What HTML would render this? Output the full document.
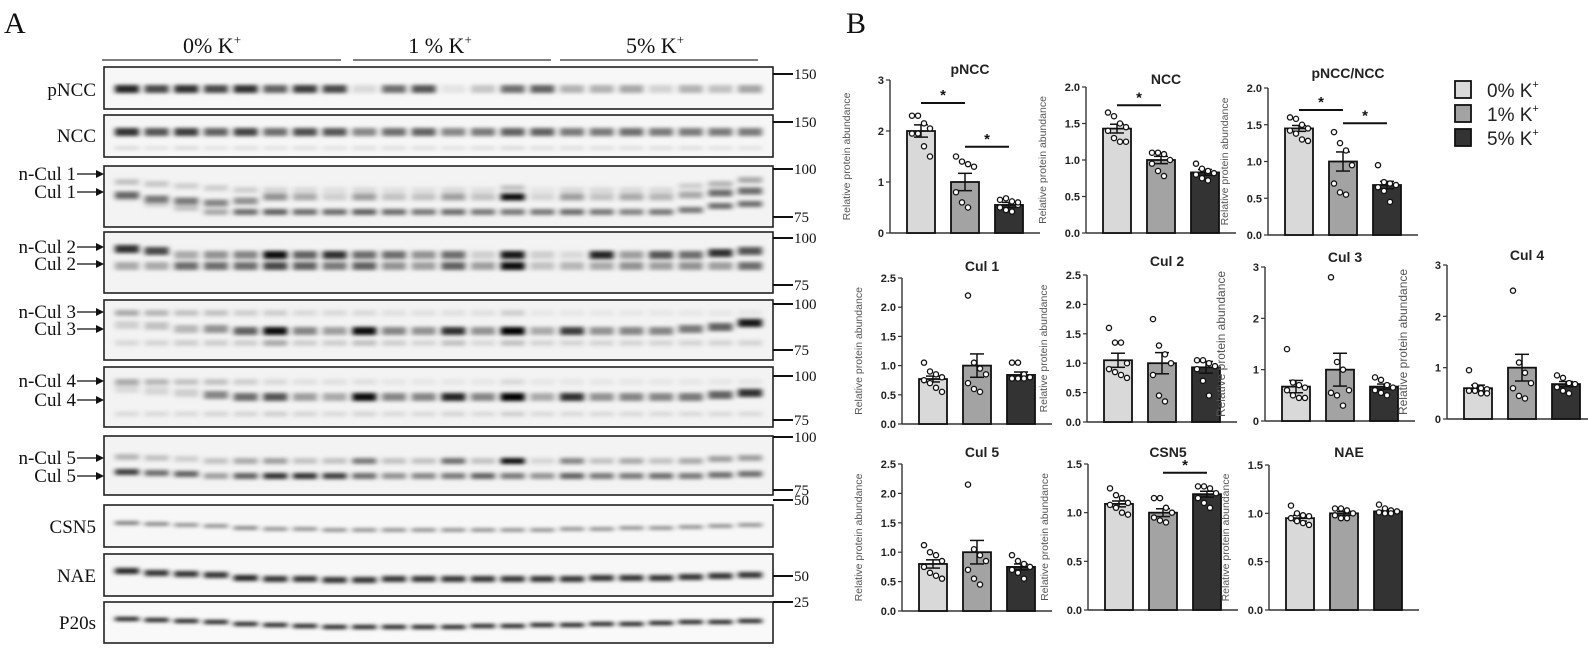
<!DOCTYPE html>
<html><head><meta charset="utf-8">
<style>
html,body{margin:0;padding:0;background:#fff;}
svg{display:block;}
.ser{font-family:"Liberation Serif",serif;fill:#111;}
.sans{font-family:"Liberation Sans",sans-serif;}
</style></head>
<body>
<svg id="s" width="1588" height="655" viewBox="0 0 1588 655" xmlns="http://www.w3.org/2000/svg">
<defs>
<filter id="bl" x="-30%" y="-150%" width="160%" height="400%"><feGaussianBlur stdDeviation="2.6 1.8"/></filter>
</defs>
<g id="g"></g>
</svg>
<script>
var out=[];
function a(s){out.push(s);}
a('<text class="ser" x="4" y="33" font-size="30">A</text>');
a('<text class="ser" x="212" y="53" font-size="22" text-anchor="middle">0% K<tspan dy="-9" font-size="13">+</tspan></text>');
a('<text class="ser" x="440" y="53" font-size="22" text-anchor="middle">1 % K<tspan dy="-9" font-size="13">+</tspan></text>');
a('<text class="ser" x="655" y="53" font-size="22" text-anchor="middle">5% K<tspan dy="-9" font-size="13">+</tspan></text>');
a('<line x1="102" y1="60" x2="341" y2="60" stroke="#333" stroke-width="1.3"/>');
a('<line x1="353" y1="60" x2="551" y2="60" stroke="#333" stroke-width="1.3"/>');
a('<line x1="560" y1="60" x2="758" y2="60" stroke="#333" stroke-width="1.3"/>');
var L0=127,LS=29.67,BX=104,BR=773;
var LX=[];for(var i=0;i<22;i++)LX.push(L0+i*LS);
function row(y1,y2,label,bands,bg){
  a('<rect x="'+BX+'" y="'+y1+'" width="'+(BR-BX)+'" height="'+(y2-y1)+'" fill="'+(bg||'#f3f3f3')+'"/>');
  a('<g filter="url(#bl)">');
  bands.forEach(function(b){
    for(var i=0;i<22;i++){
      var v=b.v[i]; if(v<=0)continue;
      var yy=b.y+(b.sl?b.sl[i]:0);
      a('<rect x="'+(LX[i]-12)+'" y="'+(yy-b.h/2)+'" width="24" height="'+b.h+'" fill="#000" opacity="'+v+'"/>');
    }
  });
  a('</g>');
  a('<rect x="'+BX+'" y="'+y1+'" width="'+(BR-BX)+'" height="'+(y2-y1)+'" fill="none" stroke="#222" stroke-width="1.6"/>');
}
function lab(x,y,t,arrow){
  if(arrow){x=76;}
  a('<text class="ser" x="'+x+'" y="'+y+'" font-size="19" text-anchor="end">'+t+'</text>');
  if(arrow){a('<line x1="'+(x+1)+'" y1="'+(y-6)+'" x2="'+(BX-6)+'" y2="'+(y-6)+'" stroke="#111" stroke-width="1.3"/><polygon points="'+(BX-8)+','+(y-10)+' '+(BX)+','+(y-6)+' '+(BX-8)+','+(y-2)+'" fill="#111"/>');}
}
function mk(y,t){a('<line x1="'+BR+'" y1="'+y+'" x2="'+(BR+20)+'" y2="'+y+'" stroke="#111" stroke-width="2"/><text class="ser" x="'+(BR+21)+'" y="'+(y+5)+'" font-size="15">'+t+'</text>');}
row(67,109,'pNCC',[{y:89,h:8,v:[.85,.7,.8,.7,.8,.6,.75,.7,.12,.55,.65,.08,.2,.55,.6,.28,.28,.32,.15,.28,.22,.33]}],'#f7f7f7');
lab(96,96,'pNCC');mk(74,'150');
row(115,157,'NCC',[{y:132,h:8,v:[.8,.65,.75,.6,.72,.55,.68,.65,.45,.55,.6,.45,.5,.6,.6,.5,.5,.55,.5,.5,.5,.5]},{y:148,h:3,v:[.15,.1,.15,.1,.12,.1,.12,.1,.12,.12,.12,.1,.12,.15,.12,.12,.12,.12,.12,.12,.1,.1]}],'#f6f6f6');
lab(96,142,'NCC');mk(122,'150');
var c1top=[.2,.18,.15,.15,.15,.12,.1,.08,.1,.08,.08,.1,.08,.2,.06,.1,.1,.1,.1,.15,.25,.3];
row(166,227,'Cul1',[{y:190,h:6,v:c1top,sl:[-8,-6,-4,-2,0,0,0,0,0,0,0,0,0,-2,0,0,0,0,0,-4,-6,-10]},
 {y:197,h:7,v:[.55,.5,.5,.45,.4,.4,.3,.15,.35,.2,.2,.35,.2,.95,.12,.35,.2,.3,.25,.3,.55,.55],sl:[-2,2,4,6,4,0,0,0,0,0,0,0,0,0,0,0,0,0,0,-2,-4,-6]},
 {y:212,h:6,v:[.15,.15,.2,.3,.55,.6,.55,.55,.6,.55,.5,.55,.5,.5,.5,.55,.5,.45,.5,.5,.55,.55],sl:[-14,-8,-4,0,0,0,0,0,0,0,0,0,0,0,0,0,0,0,0,-2,-6,-8]}]);
lab(96,180,'n-Cul 1',1);lab(96,198,'Cul 1',1);mk(169,'100');mk(217,'75');
row(232,293,'Cul2',[{y:255,h:8,v:[.8,.7,.3,.4,.45,.95,.6,.8,.55,.55,.4,.55,.15,.9,.15,.1,.85,.35,.65,.55,.8,.65],sl:[-6,-4,0,0,0,0,0,0,0,0,0,0,0,0,0,0,0,0,0,0,-2,-4]},
 {y:266,h:8,v:[.3,.3,.55,.55,.55,.7,.6,.5,.6,.4,.35,.6,.35,.95,.2,.25,.3,.4,.35,.4,.35,.55]}]);
lab(96,253,'n-Cul 2',1);lab(96,270,'Cul 2',1);mk(238,'100');mk(285,'75');
row(300,360,'Cul3',[{y:313,h:6,v:[.3,.25,.2,.2,.15,.15,.1,.1,.1,.08,.08,.08,.08,.15,.05,.05,.05,.05,.05,.05,.05,.05]},
 {y:331,h:8,v:[.15,.2,.25,.4,.6,.95,.45,.35,.95,.45,.4,.8,.4,1,.3,.75,.4,.45,.45,.5,.6,.9],sl:[-6,-5,-2,-2,0,0,0,0,0,0,0,0,0,0,0,0,0,0,0,-2,-4,-8]},
 {y:343,h:6,v:[.1,.12,.15,.15,.15,.3,.15,.15,.2,.15,.12,.2,.1,.2,.12,.12,.12,.12,.12,.12,.12,.12]}]);
lab(96,318,'n-Cul 3',1);lab(96,335,'Cul 3',1);mk(304,'100');mk(350,'75');
row(367,427,'Cul4',[{y:382,h:6,v:[.3,.25,.2,.2,.15,.1,.08,.08,.08,.05,.05,.05,.05,.1,.05,.05,.05,.05,.05,.05,.05,.05]},
 {y:397,h:8,v:[.1,.12,.15,.45,.55,.65,.35,.3,.95,.45,.45,.85,.45,1,.3,.8,.4,.45,.45,.5,.6,.8],sl:[-8,-6,-4,-2,0,0,0,0,0,0,0,0,0,0,0,0,0,0,0,0,-2,-4]},
 {y:414,h:5,v:[.1,.1,.1,.12,.12,.15,.12,.1,.12,.1,.1,.12,.1,.15,.1,.1,.1,.1,.1,.1,.1,.1]}]);
lab(96,387,'n-Cul 4',1);lab(96,406,'Cul 4',1);mk(376,'100');mk(420,'75');
row(436,495,'Cul5',[{y:461,h:6,v:[.25,.2,.15,.2,.3,.35,.2,.2,.5,.2,.2,.55,.2,.95,.12,.45,.2,.3,.2,.3,.35,.35],sl:[-4,-3,-2,0,0,0,0,0,0,0,0,0,0,0,0,0,0,0,0,0,-2,-3]},
 {y:476,h:6,v:[.75,.55,.6,.35,.6,.8,.8,.75,.55,.4,.45,.5,.6,.5,.4,.6,.5,.5,.55,.5,.55,.55],sl:[-4,-3,-2,0,0,0,0,0,0,0,0,0,0,0,0,0,0,0,0,0,-1,-2]}]);
lab(96,464,'n-Cul 5',1);lab(96,482,'Cul 5',1);mk(437,'100');mk(490,'75');
row(505,547,'CSN5',[{y:528,h:3.5,v:[.55,.5,.45,.45,.5,.45,.45,.45,.45,.45,.45,.45,.45,.45,.45,.45,.45,.45,.45,.45,.45,.45],sl:[-5,-4,-3,-2,0,1,1,2,2,2,2,2,2,2,2,1,1,0,0,-1,-2,-3]}],'#f7f7f7');
lab(96,533,'CSN5');mk(500,'50');
row(554,596,'NAE',[{y:578,h:6,v:[.85,.8,.8,.8,.85,.8,.8,.8,.8,.8,.8,.8,.8,.8,.8,.8,.8,.8,.8,.8,.8,.8],sl:[-7,-5,-4,-3,0,1,1,2,2,1,1,1,1,1,1,1,0,0,0,-1,-2,-3]}],'#f7f7f7');
lab(96,582,'NAE');mk(576,'50');
row(602,643,'P20s',[{y:624,h:4,v:[.9,.9,.9,.9,.9,.9,.9,.9,.9,.9,.9,.9,.9,.9,.9,.9,.9,.9,.9,.9,.9,.9],sl:[-5,-4,-3,-2,0,1,2,3,3,3,3,3,2,2,1,1,0,0,-1,-2,-2,-3]}],'#f9f9f9');
lab(96,629,'P20s');mk(602,'25');

a('<text class="ser" x="846" y="33" font-size="30">B</text>');
var COL=['#d9d9d9','#a3a3a3','#333333'];
function chart(o){
  var ax=o.ax,y0=o.y0,yt=o.yt,vm=o.vmax;
  function Y(v){return y0-(v/vm)*(y0-yt);}
  var cy=(y0+yt)/2;
  a('<text class="sans" transform="translate('+(ax-40)+','+cy+') rotate(-90)" font-size="'+(o.lfs||10.5)+'" fill="#555" text-anchor="middle">Relative protein abundance</text>');
  a('<line x1="'+ax+'" y1="'+yt+'" x2="'+ax+'" y2="'+y0+'" stroke="#333" stroke-width="1.4"/>');
  a('<line x1="'+ax+'" y1="'+y0+'" x2="'+(ax+150)+'" y2="'+y0+'" stroke="#333" stroke-width="1.4"/>');
  o.ticks.forEach(function(t){var y=Y(t);a('<line x1="'+(ax-4)+'" y1="'+y+'" x2="'+ax+'" y2="'+y+'" stroke="#333" stroke-width="1.2"/>');
    a('<text class="sans" x="'+(ax-6)+'" y="'+(y+4)+'" font-size="11" font-weight="bold" fill="#222" text-anchor="end">'+(o.dec?t.toFixed(1):t)+'</text>');});
  a('<text class="sans" x="'+(ax+80)+'" y="'+o.ty+'" font-size="14" font-weight="bold" fill="#222" text-anchor="middle">'+o.title+'</text>');
  for(var k=0;k<3;k++){
    var bx=ax+17+k*44,bw=28,m=o.m[k],yy=Y(m);
    a('<rect x="'+bx+'" y="'+yy+'" width="'+bw+'" height="'+(y0-yy)+'" fill="'+COL[k]+'" stroke="#111" stroke-width="1.8"/>');
    var cx=bx+bw/2,e1=Y(m+o.s[k]),e2=Y(m-o.s[k]);
    a('<line x1="'+cx+'" y1="'+e1+'" x2="'+cx+'" y2="'+e2+'" stroke="#111" stroke-width="1.5"/><line x1="'+(cx-7)+'" y1="'+e1+'" x2="'+(cx+7)+'" y2="'+e1+'" stroke="#111" stroke-width="1.5"/><line x1="'+(cx-7)+'" y1="'+e2+'" x2="'+(cx+7)+'" y2="'+e2+'" stroke="#111" stroke-width="1.5"/>');
    var p=o.p[k];
    for(var j=0;j<p.length;j++){var dx=((j%4)-1.5)*6;a('<circle cx="'+(cx+dx)+'" cy="'+Y(p[j])+'" r="2.6" fill="#fff" stroke="#111" stroke-width="1.3"/>');}
  }
  (o.sig||[]).forEach(function(s){var y=Y(s[2]);var x1=ax+31+s[0]*44,x2=ax+31+s[1]*44;
    a('<line x1="'+x1+'" y1="'+y+'" x2="'+x2+'" y2="'+y+'" stroke="#111" stroke-width="2"/><text class="sans" x="'+((x1+x2)/2)+'" y="'+(y-3)+'" font-size="15" font-weight="bold" text-anchor="middle" fill="#111">*</text>');});
}
chart({ax:890,y0:233,yt:80,vmax:3,ticks:[0,1,2,3],title:'pNCC',ty:74,m:[2.0,1.0,0.55],s:[.12,.17,.05],
 p:[[2.3,2.3,2.15,2.05,1.95,1.95,1.7,1.5],[1.5,1.4,1.35,1.3,.8,.6,.5],[.65,.68,.62,.55,.5,.45,.42,.6]],sig:[[0,1,2.55],[1,2,1.69]]});
chart({ax:1086,y0:233,yt:87,vmax:2,dec:1,ticks:[0,.5,1,1.5,2],title:'NCC',ty:84,m:[1.43,1.0,.83],s:[.06,.05,.04],
 p:[[1.65,1.6,1.5,1.45,1.4,1.3,1.25,1.25],[1.1,1.1,1.08,1.0,.95,.85,.78],[.95,.88,.85,.82,.8,.75,.72]],sig:[[0,1,1.75]]});
chart({ax:1268,y0:235,yt:88,vmax:2,dec:1,ticks:[0,.5,1,1.5,2],title:'pNCC/NCC',ty:78,m:[1.45,1.0,.68],s:[.04,.13,.05],
 p:[[1.6,1.58,1.5,1.45,1.42,1.38,1.3,1.28],[1.4,1.25,1.15,.95,.7,.58,.55],[.95,.72,.7,.68,.65,.6,.45]],sig:[[0,1,1.7],[1,2,1.52]]});
var LG=['0% K','1% K','5% K'];
for(var k=0;k<3;k++){var y=81+k*24;
 a('<rect x="1455" y="'+y+'" width="16" height="17" fill="'+COL[k]+'" stroke="#111" stroke-width="1.8"/>');
 a('<text class="sans" x="1487" y="'+(y+16)+'" font-size="19" fill="#222">'+LG[k]+'<tspan dy="-9" font-size="11">+</tspan></text>');}
chart({ax:902,y0:424,yt:278,vmax:2.5,dec:1,ticks:[0,.5,1,1.5,2,2.5],title:'Cul 1',ty:271,m:[.77,1.0,.84],s:[.05,.2,.05],
 p:[[1.05,.9,.85,.8,.75,.7,.62,.55],[2.2,1.05,.95,.85,.7,.6,.55],[1.05,1.05,.85,.8,.78,.78,.78]]});
chart({ax:1087,y0:422,yt:275,vmax:2.5,dec:1,ticks:[0,.5,1,1.5,2,2.5],title:'Cul 2',ty:266,m:[1.05,1.0,.93],s:[.12,.18,.1],
 p:[[1.6,1.35,1.35,1.0,.9,.85,.8,.75],[1.75,1.3,1.15,1.0,.8,.45,.35],[1.05,1.05,1.0,.95,.9,.7,.45]]});
chart({ax:1265,y0:421,yt:267,vmax:3,ticks:[0,1,2,3],title:'Cul 3',ty:262,lfs:12,m:[.67,1.0,.67],s:[.12,.32,.05],
 p:[[1.4,.75,.7,.65,.6,.5,.45,.45],[2.8,1.15,1.0,.6,.55,.5,.3],[.85,.8,.7,.65,.6,.55,.5]]});
chart({ax:1447,y0:419,yt:265,vmax:3,ticks:[0,1,2,3],title:'Cul 4',ty:260,lfs:12,m:[.6,1.0,.68],s:[.06,.26,.05],
 p:[[.95,.65,.6,.58,.55,.55,.5,.5],[2.5,1.1,.9,.7,.6,.45,.4],[.85,.8,.7,.68,.62,.55,.5]]});
chart({ax:902,y0:611,yt:464,vmax:2.5,dec:1,ticks:[0,.5,1,1.5,2,2.5],title:'Cul 5',ty:457,m:[.8,1.0,.75],s:[.07,.2,.05],
 p:[[1.12,1.0,.95,.85,.75,.65,.6,.55],[2.15,1.05,.95,.85,.7,.55,.45],[.95,.85,.8,.75,.7,.65,.55]]});
chart({ax:1088,y0:610,yt:464,vmax:1.5,dec:1,ticks:[0,.5,1,1.5],title:'CSN5',ty:457,m:[1.09,1.0,1.19],s:[.03,.04,.03],
 p:[[1.25,1.18,1.15,1.1,1.08,1.05,1.0,.98],[1.15,1.15,1.05,1.0,.95,.92,.9],[1.27,1.27,1.25,1.2,1.15,1.1,1.05]],sig:[[1,2,1.41]]});
chart({ax:1269,y0:610,yt:465,vmax:1.5,dec:1,ticks:[0,.5,1,1.5],title:'NAE',ty:457,m:[.95,1.0,1.02],s:[.03,.02,.01],
 p:[[1.08,1.0,.98,.97,.95,.92,.9,.88],[1.05,1.05,1.03,1.0,.98,.95,.95],[1.09,1.05,1.03,1.02,1.01,1.0,1.0]]});
document.getElementById('g').innerHTML=out.join('');
</script>
</body></html>
